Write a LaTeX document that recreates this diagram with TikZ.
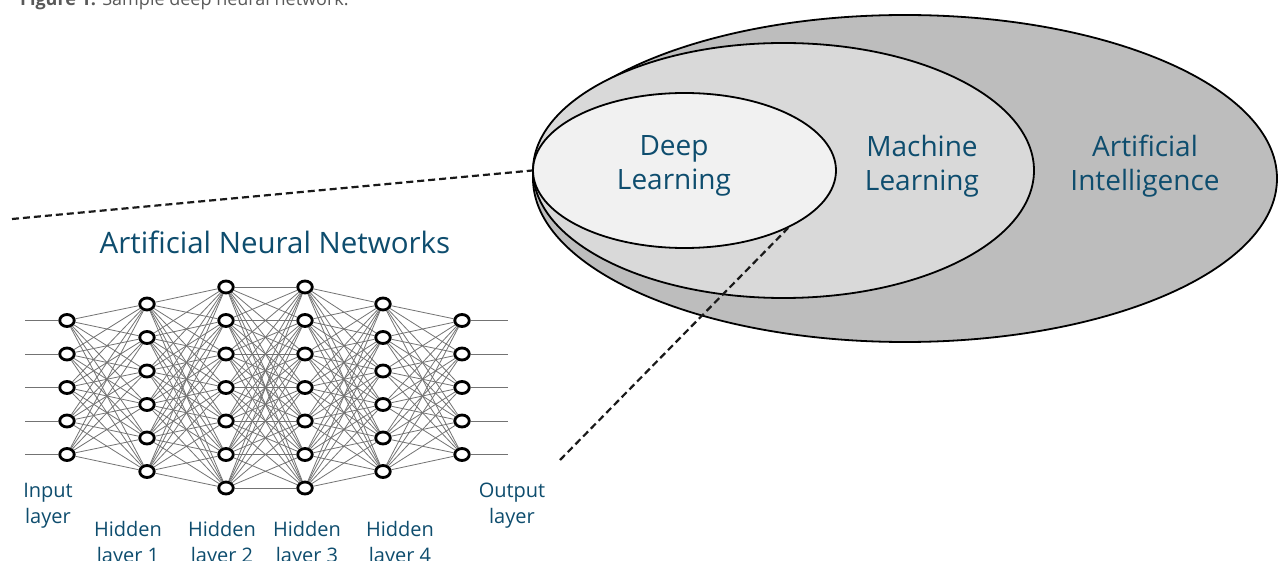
\documentclass[tikz,border=0pt]{standalone}
\usepackage{fontspec}
\setmainfont{Open Sans}
\usepackage{tikz}
\usepackage{xcolor}
\usetikzlibrary{shapes.geometric, positioning}
\definecolor{ANN_Blue}{HTML}{0E4D6E}
\definecolor{AI_Gray}{HTML}{BDBDBD}
\definecolor{ML_Gray}{HTML}{D9D9D9}
\definecolor{DL_Gray}{HTML}{F1F1F1}

\begin{document}
\begin{tikzpicture}[x=1pt, y=-1pt,
  neuron/.style={ellipse, draw=black, line width=2.8pt, fill=white, minimum width=14.5pt, minimum height=12pt, inner sep=0pt},
  synapse/.style={draw=black!55, line width=0.8pt},
  setbox/.style={ellipse, draw=black, line width=1.8pt, inner sep=0pt},
  zoomline/.style={draw=black!90, line width=2.2pt, dash pattern=on 7pt off 4pt},
  venntext/.style={text=ANN_Blue, font=\fontsize{28}{34}\selectfont, align=center},
  layertext/.style={text=ANN_Blue, font=\fontsize{20}{26}\selectfont, align=center}]
\fill[white] (0,0) rectangle (1283,561);
\useasboundingbox (0,0) rectangle (1283,561);
% caption, cut off by the top edge
\node[anchor=base west, text=black!65, font=\fontsize{18}{22}\selectfont, inner sep=0pt] (caption) at (20,6) {\textbf{Figure 1:} Sample deep neural network.};
% --- Venn: AI > ML > DL ---
\node[setbox, fill=AI_Gray, minimum width=744pt, minimum height=327pt] (AI) at (905,178.5) {};
\node[setbox, fill=ML_Gray, minimum width=501pt, minimum height=255pt] (ML) at (783.5,170.5) {};
\node[setbox, fill=DL_Gray, minimum width=303pt, minimum height=155pt] (DL) at (684.5,170.5) {};
\node[venntext] (DL-label) at (674,166) {Deep\\Learning};
\node[venntext] (ML-label) at (922,166) {Machine\\Learning};
\node[venntext] (AI-label) at (1145,166) {Artificial\\Intelligence};
% --- Network ---
\node[text=ANN_Blue, font=\fontsize{29.5}{35}\selectfont] (ann-title) at (275,242) {Artificial Neural Networks};
% layer / x / nodes / first y
\foreach \l/\x/\n/\ytop in {1/67/5/320.5, 2/147/6/304, 3/226/7/287, 4/305/7/287, 5/383/6/304, 6/462/5/320.5} {
  \foreach \i in {1,...,\n} {
    \node[neuron] (n\l-\i) at (\x,{\ytop+33.5*(\i-1)}) {};
  }
}
% weights between layers
\foreach \l/\m/\na/\nb in {1/2/5/6, 2/3/6/7, 3/4/7/7, 4/5/7/6, 5/6/6/5} {
  \foreach \i in {1,...,\na} {
    \foreach \j in {1,...,\nb} {
      \draw[synapse] (n\l-\i) -- (n\m-\j);
    }
  }
}
% inputs and outputs
\foreach \i in {1,...,5} {
  \coordinate (in\i) at (25,{320.5+33.5*(\i-1)});
  \coordinate (out\i) at (508,{320.5+33.5*(\i-1)});
  \draw[synapse] (in\i) -- (n1-\i);
  \draw[synapse] (n6-\i) -- (out\i);
}
\node[layertext] (input-label) at (48,506) {Input\\layer};
\node[layertext] (h1-label) at (128,544) {Hidden\\layer 1};
\node[layertext] (h2-label) at (222,544) {Hidden\\layer 2};
\node[layertext] (h3-label) at (307,544) {Hidden\\layer 3};
\node[layertext] (h4-label) at (400,544) {Hidden\\layer 4};
\node[layertext] (output-label) at (512,506) {Output\\layer};
% --- zoom lines ---
\coordinate (ann-top) at (12,219);
\coordinate (ann-bottom) at (560,460);
\draw[zoomline] (ann-top) -- (DL.west);
\draw[zoomline] (ann-bottom) -- (DL.-29.5);
\end{tikzpicture}
\end{document}
